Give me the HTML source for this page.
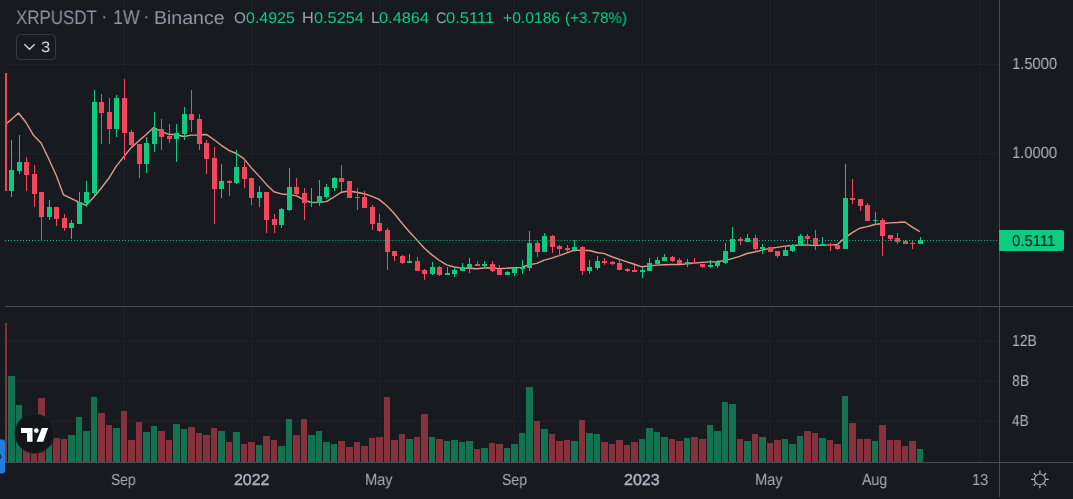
<!DOCTYPE html>
<html><head><meta charset="utf-8"><style>
html,body{margin:0;padding:0;}
body{width:1073px;height:499px;overflow:hidden;background:#171b20;position:relative;font-family:"Liberation Sans",sans-serif;}
.t{position:absolute;white-space:pre;line-height:1;transform-origin:0 0;will-change:transform;text-rendering:geometricPrecision;}
svg{position:absolute;left:0;top:0;}
</style></head><body>
<svg width="1073" height="499" viewBox="0 0 1073 499">
<defs><clipPath id="pane"><rect x="5" y="0" width="994" height="306"/></clipPath></defs>
<g shape-rendering="crispEdges">
<rect x="124" y="0" width="1" height="306" fill="#1d2127"/>
<rect x="124" y="307" width="1" height="155" fill="#1d2127"/>
<rect x="251" y="0" width="1" height="306" fill="#1d2127"/>
<rect x="251" y="307" width="1" height="155" fill="#1d2127"/>
<rect x="379" y="0" width="1" height="306" fill="#1d2127"/>
<rect x="379" y="307" width="1" height="155" fill="#1d2127"/>
<rect x="514" y="0" width="1" height="306" fill="#1d2127"/>
<rect x="514" y="307" width="1" height="155" fill="#1d2127"/>
<rect x="642" y="0" width="1" height="306" fill="#1d2127"/>
<rect x="642" y="307" width="1" height="155" fill="#1d2127"/>
<rect x="770" y="0" width="1" height="306" fill="#1d2127"/>
<rect x="770" y="307" width="1" height="155" fill="#1d2127"/>
<rect x="875" y="0" width="1" height="306" fill="#1d2127"/>
<rect x="875" y="307" width="1" height="155" fill="#1d2127"/>
<rect x="980" y="0" width="1" height="306" fill="#1d2127"/>
<rect x="980" y="307" width="1" height="155" fill="#1d2127"/>
<rect x="5" y="64" width="994" height="1" fill="#1d2127"/>
<rect x="5" y="153" width="994" height="1" fill="#1d2127"/>
<rect x="5" y="242" width="994" height="1" fill="#1d2127"/>
<rect x="5" y="341" width="994" height="1" fill="#1d2127"/>
<rect x="5" y="381" width="994" height="1" fill="#1d2127"/>
<rect x="5" y="421" width="994" height="1" fill="#1d2127"/>
<rect x="5" y="323" width="2" height="139" fill="#87303e"/>
<rect x="8" y="376" width="7" height="86" fill="#137250"/>
<rect x="16" y="405" width="6" height="57" fill="#137250"/>
<rect x="23" y="425" width="7" height="37" fill="#87303e"/>
<rect x="31" y="430" width="6" height="32" fill="#87303e"/>
<rect x="38" y="398" width="7" height="64" fill="#87303e"/>
<rect x="46" y="432" width="6" height="30" fill="#137250"/>
<rect x="53" y="438" width="7" height="24" fill="#87303e"/>
<rect x="61" y="439" width="6" height="23" fill="#87303e"/>
<rect x="68" y="435" width="7" height="27" fill="#137250"/>
<rect x="76" y="417" width="6" height="45" fill="#137250"/>
<rect x="83" y="431" width="7" height="31" fill="#137250"/>
<rect x="91" y="397" width="6" height="65" fill="#137250"/>
<rect x="98" y="413" width="7" height="49" fill="#87303e"/>
<rect x="106" y="425" width="6" height="37" fill="#87303e"/>
<rect x="113" y="428" width="7" height="34" fill="#137250"/>
<rect x="121" y="411" width="6" height="51" fill="#87303e"/>
<rect x="128" y="440" width="7" height="22" fill="#87303e"/>
<rect x="136" y="422" width="6" height="40" fill="#87303e"/>
<rect x="143" y="432" width="7" height="30" fill="#137250"/>
<rect x="151" y="426" width="6" height="36" fill="#137250"/>
<rect x="158" y="431" width="7" height="31" fill="#87303e"/>
<rect x="166" y="440" width="6" height="22" fill="#87303e"/>
<rect x="173" y="424" width="7" height="38" fill="#137250"/>
<rect x="181" y="429" width="6" height="33" fill="#137250"/>
<rect x="188" y="427" width="7" height="35" fill="#87303e"/>
<rect x="196" y="433" width="6" height="29" fill="#87303e"/>
<rect x="203" y="435" width="7" height="27" fill="#87303e"/>
<rect x="211" y="428" width="6" height="34" fill="#87303e"/>
<rect x="218" y="431" width="7" height="31" fill="#137250"/>
<rect x="226" y="442" width="6" height="20" fill="#87303e"/>
<rect x="233" y="432" width="7" height="30" fill="#137250"/>
<rect x="241" y="444" width="6" height="18" fill="#87303e"/>
<rect x="248" y="442" width="7" height="20" fill="#87303e"/>
<rect x="256" y="445" width="6" height="17" fill="#137250"/>
<rect x="263" y="436" width="7" height="26" fill="#87303e"/>
<rect x="271" y="440" width="6" height="22" fill="#87303e"/>
<rect x="278" y="446" width="7" height="16" fill="#137250"/>
<rect x="286" y="419" width="6" height="43" fill="#137250"/>
<rect x="293" y="435" width="7" height="27" fill="#87303e"/>
<rect x="301" y="419" width="6" height="43" fill="#87303e"/>
<rect x="308" y="435" width="7" height="27" fill="#137250"/>
<rect x="316" y="431" width="6" height="31" fill="#137250"/>
<rect x="323" y="442" width="7" height="20" fill="#137250"/>
<rect x="331" y="444" width="6" height="18" fill="#137250"/>
<rect x="338" y="441" width="7" height="21" fill="#87303e"/>
<rect x="346" y="447" width="7" height="15" fill="#87303e"/>
<rect x="354" y="442" width="6" height="20" fill="#87303e"/>
<rect x="361" y="446" width="7" height="16" fill="#87303e"/>
<rect x="369" y="438" width="6" height="24" fill="#87303e"/>
<rect x="376" y="437" width="7" height="25" fill="#87303e"/>
<rect x="384" y="397" width="6" height="65" fill="#87303e"/>
<rect x="391" y="440" width="7" height="22" fill="#87303e"/>
<rect x="399" y="434" width="6" height="28" fill="#87303e"/>
<rect x="406" y="439" width="7" height="23" fill="#137250"/>
<rect x="414" y="437" width="6" height="25" fill="#87303e"/>
<rect x="421" y="414" width="7" height="48" fill="#87303e"/>
<rect x="429" y="437" width="6" height="25" fill="#137250"/>
<rect x="436" y="439" width="7" height="23" fill="#87303e"/>
<rect x="444" y="441" width="6" height="21" fill="#137250"/>
<rect x="451" y="440" width="7" height="22" fill="#137250"/>
<rect x="459" y="442" width="6" height="20" fill="#137250"/>
<rect x="466" y="441" width="7" height="21" fill="#137250"/>
<rect x="474" y="449" width="6" height="13" fill="#87303e"/>
<rect x="481" y="448" width="7" height="14" fill="#137250"/>
<rect x="489" y="443" width="6" height="19" fill="#87303e"/>
<rect x="496" y="444" width="7" height="18" fill="#87303e"/>
<rect x="504" y="448" width="6" height="14" fill="#137250"/>
<rect x="511" y="444" width="7" height="18" fill="#137250"/>
<rect x="519" y="433" width="6" height="29" fill="#137250"/>
<rect x="526" y="387" width="7" height="75" fill="#137250"/>
<rect x="534" y="421" width="6" height="41" fill="#87303e"/>
<rect x="541" y="429" width="7" height="33" fill="#137250"/>
<rect x="549" y="434" width="6" height="28" fill="#87303e"/>
<rect x="556" y="441" width="7" height="21" fill="#87303e"/>
<rect x="564" y="440" width="6" height="22" fill="#87303e"/>
<rect x="571" y="441" width="7" height="21" fill="#137250"/>
<rect x="579" y="420" width="6" height="42" fill="#87303e"/>
<rect x="586" y="433" width="7" height="29" fill="#137250"/>
<rect x="594" y="434" width="6" height="28" fill="#137250"/>
<rect x="601" y="442" width="7" height="20" fill="#87303e"/>
<rect x="609" y="444" width="6" height="18" fill="#87303e"/>
<rect x="616" y="440" width="7" height="22" fill="#87303e"/>
<rect x="624" y="445" width="6" height="17" fill="#87303e"/>
<rect x="631" y="442" width="7" height="20" fill="#87303e"/>
<rect x="639" y="439" width="6" height="23" fill="#137250"/>
<rect x="646" y="428" width="7" height="34" fill="#137250"/>
<rect x="654" y="432" width="6" height="30" fill="#137250"/>
<rect x="661" y="437" width="7" height="25" fill="#137250"/>
<rect x="669" y="439" width="6" height="23" fill="#87303e"/>
<rect x="676" y="441" width="7" height="21" fill="#87303e"/>
<rect x="684" y="438" width="6" height="24" fill="#137250"/>
<rect x="691" y="437" width="7" height="25" fill="#87303e"/>
<rect x="699" y="439" width="7" height="23" fill="#87303e"/>
<rect x="707" y="425" width="6" height="37" fill="#137250"/>
<rect x="714" y="431" width="7" height="31" fill="#137250"/>
<rect x="722" y="402" width="6" height="60" fill="#137250"/>
<rect x="729" y="404" width="7" height="58" fill="#137250"/>
<rect x="737" y="439" width="6" height="23" fill="#87303e"/>
<rect x="744" y="441" width="7" height="21" fill="#137250"/>
<rect x="752" y="434" width="6" height="28" fill="#87303e"/>
<rect x="759" y="437" width="7" height="25" fill="#137250"/>
<rect x="767" y="443" width="6" height="19" fill="#87303e"/>
<rect x="774" y="440" width="7" height="22" fill="#87303e"/>
<rect x="782" y="439" width="6" height="23" fill="#137250"/>
<rect x="789" y="444" width="7" height="18" fill="#137250"/>
<rect x="797" y="436" width="6" height="26" fill="#137250"/>
<rect x="804" y="431" width="7" height="31" fill="#87303e"/>
<rect x="812" y="433" width="6" height="29" fill="#87303e"/>
<rect x="819" y="438" width="7" height="24" fill="#137250"/>
<rect x="827" y="440" width="6" height="22" fill="#87303e"/>
<rect x="834" y="444" width="7" height="18" fill="#87303e"/>
<rect x="842" y="396" width="6" height="66" fill="#137250"/>
<rect x="849" y="423" width="7" height="39" fill="#87303e"/>
<rect x="857" y="439" width="6" height="23" fill="#87303e"/>
<rect x="864" y="439" width="7" height="23" fill="#87303e"/>
<rect x="872" y="441" width="6" height="21" fill="#137250"/>
<rect x="879" y="425" width="7" height="37" fill="#87303e"/>
<rect x="887" y="440" width="6" height="22" fill="#87303e"/>
<rect x="894" y="440" width="7" height="22" fill="#87303e"/>
<rect x="902" y="446" width="6" height="16" fill="#87303e"/>
<rect x="909" y="441" width="7" height="21" fill="#87303e"/>
<rect x="917" y="449" width="6" height="13" fill="#137250"/>
</g><g clip-path="url(#pane)"><path d="M3.50,126.00 L11.01,119.70 L18.52,113.00 L26.03,122.50 L33.54,135.30 L41.05,143.00 L48.56,158.50 L56.07,175.00 L63.59,194.91 L71.10,198.47 L78.61,202.02 L86.12,205.36 L93.63,197.21 L101.14,188.26 L108.65,178.52 L116.16,166.41 L123.67,156.88 L131.18,147.68 L138.69,141.09 L146.20,134.53 L153.71,127.51 L161.22,131.43 L168.74,134.32 L176.25,134.77 L183.76,136.54 L191.27,135.12 L198.78,134.98 L206.29,134.44 L213.80,139.53 L221.31,145.32 L228.82,150.40 L236.33,153.49 L243.84,158.58 L251.35,167.89 L258.86,175.89 L266.37,184.39 L273.89,191.71 L281.40,193.93 L288.91,194.63 L296.42,195.87 L303.93,199.88 L311.44,202.43 L318.95,202.23 L326.46,201.67 L333.97,197.00 L341.48,192.21 L348.99,190.99 L356.50,192.19 L364.01,193.77 L371.52,196.11 L379.03,199.34 L386.55,205.54 L394.06,213.27 L401.57,222.71 L409.08,231.52 L416.59,239.64 L424.10,248.07 L431.61,254.61 L439.12,260.27 L446.63,264.94 L454.14,266.97 L461.65,268.13 L469.16,268.27 L476.67,268.80 L484.18,268.06 L491.70,267.73 L499.21,268.62 L506.72,268.32 L514.23,267.73 L521.74,267.39 L529.25,264.72 L536.76,263.37 L544.27,260.06 L551.78,258.13 L559.29,255.68 L566.80,252.91 L574.31,250.10 L581.82,250.47 L589.33,250.46 L596.85,252.46 L604.36,253.68 L611.87,256.76 L619.38,259.32 L626.89,261.79 L634.40,264.23 L641.91,266.80 L649.42,265.91 L656.93,265.16 L664.44,264.74 L671.95,264.51 L679.46,264.60 L686.97,263.71 L694.48,262.99 L702.00,262.40 L709.51,261.84 L717.02,261.69 L724.53,260.68 L732.04,258.63 L739.55,256.44 L747.06,253.50 L754.57,252.03 L762.08,250.08 L769.59,248.44 L777.10,247.41 L784.61,246.09 L792.12,245.43 L799.63,245.12 L807.14,244.86 L814.66,245.63 L822.17,245.10 L829.68,244.92 L837.19,244.57 L844.70,238.13 L852.21,232.58 L859.72,228.24 L867.23,226.59 L874.74,224.50 L882.25,223.50 L889.76,222.92 L897.27,222.56 L904.78,222.02 L912.29,227.16 L919.81,231.63" fill="none" stroke="#df9c8a" stroke-width="1.4" stroke-linejoin="round" shape-rendering="auto"/></g><g shape-rendering="crispEdges">
<rect x="5" y="73" width="2" height="118" fill="#f6465d"/>
<rect x="11" y="140" width="1" height="57" fill="#0ecb81"/>
<rect x="9" y="170" width="5" height="21" fill="#0ecb81"/>
<rect x="19" y="135" width="1" height="39" fill="#0ecb81"/>
<rect x="17" y="162" width="5" height="9" fill="#0ecb81"/>
<rect x="26" y="157" width="1" height="34" fill="#f6465d"/>
<rect x="24" y="162" width="5" height="13" fill="#f6465d"/>
<rect x="34" y="165" width="1" height="42" fill="#f6465d"/>
<rect x="32" y="174" width="5" height="20" fill="#f6465d"/>
<rect x="41" y="192" width="1" height="48" fill="#f6465d"/>
<rect x="39" y="192" width="5" height="25" fill="#f6465d"/>
<rect x="49" y="200" width="1" height="20" fill="#0ecb81"/>
<rect x="47" y="207" width="5" height="10" fill="#0ecb81"/>
<rect x="56" y="207" width="1" height="19" fill="#f6465d"/>
<rect x="54" y="207" width="5" height="12" fill="#f6465d"/>
<rect x="64" y="214" width="1" height="17" fill="#f6465d"/>
<rect x="62" y="218" width="5" height="10" fill="#f6465d"/>
<rect x="71" y="220" width="1" height="19" fill="#0ecb81"/>
<rect x="69" y="223" width="5" height="5" fill="#0ecb81"/>
<rect x="79" y="192" width="1" height="32" fill="#0ecb81"/>
<rect x="77" y="202" width="5" height="22" fill="#0ecb81"/>
<rect x="86" y="181" width="1" height="26" fill="#0ecb81"/>
<rect x="84" y="192" width="5" height="11" fill="#0ecb81"/>
<rect x="94" y="90" width="1" height="105" fill="#0ecb81"/>
<rect x="92" y="102" width="5" height="91" fill="#0ecb81"/>
<rect x="101" y="94" width="1" height="50" fill="#f6465d"/>
<rect x="99" y="102" width="5" height="11" fill="#f6465d"/>
<rect x="109" y="98" width="1" height="46" fill="#f6465d"/>
<rect x="107" y="112" width="5" height="17" fill="#f6465d"/>
<rect x="116" y="95" width="1" height="42" fill="#0ecb81"/>
<rect x="114" y="98" width="5" height="31" fill="#0ecb81"/>
<rect x="124" y="79" width="1" height="81" fill="#f6465d"/>
<rect x="122" y="98" width="5" height="35" fill="#f6465d"/>
<rect x="131" y="130" width="1" height="17" fill="#f6465d"/>
<rect x="129" y="132" width="5" height="13" fill="#f6465d"/>
<rect x="139" y="144" width="1" height="34" fill="#f6465d"/>
<rect x="137" y="144" width="5" height="20" fill="#f6465d"/>
<rect x="146" y="137" width="1" height="36" fill="#0ecb81"/>
<rect x="144" y="143" width="5" height="21" fill="#0ecb81"/>
<rect x="154" y="112" width="1" height="40" fill="#0ecb81"/>
<rect x="152" y="129" width="5" height="15" fill="#0ecb81"/>
<rect x="161" y="119" width="1" height="31" fill="#f6465d"/>
<rect x="159" y="129" width="5" height="8" fill="#f6465d"/>
<rect x="169" y="124" width="1" height="19" fill="#f6465d"/>
<rect x="167" y="136" width="5" height="3" fill="#f6465d"/>
<rect x="176" y="124" width="1" height="38" fill="#0ecb81"/>
<rect x="174" y="133" width="5" height="6" fill="#0ecb81"/>
<rect x="184" y="107" width="1" height="33" fill="#0ecb81"/>
<rect x="182" y="114" width="5" height="20" fill="#0ecb81"/>
<rect x="191" y="90" width="1" height="42" fill="#f6465d"/>
<rect x="189" y="114" width="5" height="6" fill="#f6465d"/>
<rect x="199" y="114" width="1" height="36" fill="#f6465d"/>
<rect x="197" y="119" width="5" height="25" fill="#f6465d"/>
<rect x="206" y="140" width="1" height="34" fill="#f6465d"/>
<rect x="204" y="143" width="5" height="16" fill="#f6465d"/>
<rect x="214" y="147" width="1" height="77" fill="#f6465d"/>
<rect x="212" y="158" width="5" height="31" fill="#f6465d"/>
<rect x="221" y="164" width="1" height="34" fill="#0ecb81"/>
<rect x="219" y="181" width="5" height="8" fill="#0ecb81"/>
<rect x="229" y="180" width="1" height="16" fill="#f6465d"/>
<rect x="227" y="181" width="5" height="2" fill="#f6465d"/>
<rect x="236" y="150" width="1" height="34" fill="#0ecb81"/>
<rect x="234" y="167" width="5" height="16" fill="#0ecb81"/>
<rect x="244" y="161" width="1" height="27" fill="#f6465d"/>
<rect x="242" y="167" width="5" height="12" fill="#f6465d"/>
<rect x="251" y="178" width="1" height="27" fill="#f6465d"/>
<rect x="249" y="178" width="5" height="20" fill="#f6465d"/>
<rect x="259" y="186" width="1" height="21" fill="#0ecb81"/>
<rect x="257" y="192" width="5" height="6" fill="#0ecb81"/>
<rect x="266" y="192" width="1" height="41" fill="#f6465d"/>
<rect x="264" y="192" width="5" height="28" fill="#f6465d"/>
<rect x="274" y="214" width="1" height="19" fill="#f6465d"/>
<rect x="272" y="219" width="5" height="6" fill="#f6465d"/>
<rect x="281" y="208" width="1" height="20" fill="#0ecb81"/>
<rect x="279" y="209" width="5" height="16" fill="#0ecb81"/>
<rect x="289" y="168" width="1" height="43" fill="#0ecb81"/>
<rect x="287" y="187" width="5" height="23" fill="#0ecb81"/>
<rect x="296" y="178" width="1" height="18" fill="#f6465d"/>
<rect x="294" y="187" width="5" height="7" fill="#f6465d"/>
<rect x="304" y="188" width="1" height="32" fill="#f6465d"/>
<rect x="302" y="193" width="5" height="10" fill="#f6465d"/>
<rect x="311" y="188" width="1" height="19" fill="#0ecb81"/>
<rect x="309" y="202" width="5" height="1" fill="#0ecb81"/>
<rect x="319" y="180" width="1" height="26" fill="#0ecb81"/>
<rect x="317" y="196" width="5" height="7" fill="#0ecb81"/>
<rect x="326" y="184" width="1" height="15" fill="#0ecb81"/>
<rect x="324" y="187" width="5" height="10" fill="#0ecb81"/>
<rect x="334" y="177" width="1" height="14" fill="#0ecb81"/>
<rect x="332" y="178" width="5" height="10" fill="#0ecb81"/>
<rect x="341" y="165" width="1" height="27" fill="#f6465d"/>
<rect x="339" y="178" width="5" height="4" fill="#f6465d"/>
<rect x="349" y="181" width="1" height="17" fill="#f6465d"/>
<rect x="347" y="181" width="5" height="17" fill="#f6465d"/>
<rect x="357" y="188" width="1" height="22" fill="#f6465d"/>
<rect x="355" y="197" width="5" height="1" fill="#f6465d"/>
<rect x="364" y="191" width="1" height="17" fill="#f6465d"/>
<rect x="362" y="197" width="5" height="11" fill="#f6465d"/>
<rect x="372" y="205" width="1" height="25" fill="#f6465d"/>
<rect x="370" y="207" width="5" height="17" fill="#f6465d"/>
<rect x="379" y="214" width="1" height="18" fill="#f6465d"/>
<rect x="377" y="223" width="5" height="8" fill="#f6465d"/>
<rect x="387" y="228" width="1" height="42" fill="#f6465d"/>
<rect x="385" y="230" width="5" height="22" fill="#f6465d"/>
<rect x="394" y="251" width="1" height="10" fill="#f6465d"/>
<rect x="392" y="251" width="5" height="5" fill="#f6465d"/>
<rect x="402" y="255" width="1" height="9" fill="#f6465d"/>
<rect x="400" y="256" width="5" height="7" fill="#f6465d"/>
<rect x="409" y="254" width="1" height="9" fill="#0ecb81"/>
<rect x="407" y="261" width="5" height="2" fill="#0ecb81"/>
<rect x="417" y="257" width="1" height="14" fill="#f6465d"/>
<rect x="415" y="261" width="5" height="10" fill="#f6465d"/>
<rect x="424" y="269" width="1" height="11" fill="#f6465d"/>
<rect x="422" y="270" width="5" height="4" fill="#f6465d"/>
<rect x="432" y="262" width="1" height="13" fill="#0ecb81"/>
<rect x="430" y="267" width="5" height="7" fill="#0ecb81"/>
<rect x="439" y="266" width="1" height="10" fill="#f6465d"/>
<rect x="437" y="267" width="5" height="8" fill="#f6465d"/>
<rect x="447" y="267" width="1" height="8" fill="#0ecb81"/>
<rect x="445" y="273" width="5" height="2" fill="#0ecb81"/>
<rect x="454" y="267" width="1" height="10" fill="#0ecb81"/>
<rect x="452" y="270" width="5" height="4" fill="#0ecb81"/>
<rect x="462" y="263" width="1" height="8" fill="#0ecb81"/>
<rect x="460" y="267" width="5" height="4" fill="#0ecb81"/>
<rect x="469" y="258" width="1" height="15" fill="#0ecb81"/>
<rect x="467" y="264" width="5" height="4" fill="#0ecb81"/>
<rect x="477" y="261" width="1" height="5" fill="#f6465d"/>
<rect x="475" y="264" width="5" height="2" fill="#f6465d"/>
<rect x="484" y="261" width="1" height="6" fill="#0ecb81"/>
<rect x="482" y="264" width="5" height="2" fill="#0ecb81"/>
<rect x="492" y="261" width="1" height="11" fill="#f6465d"/>
<rect x="490" y="264" width="5" height="7" fill="#f6465d"/>
<rect x="499" y="265" width="1" height="10" fill="#f6465d"/>
<rect x="497" y="269" width="5" height="6" fill="#f6465d"/>
<rect x="507" y="271" width="1" height="4" fill="#0ecb81"/>
<rect x="505" y="272" width="5" height="3" fill="#0ecb81"/>
<rect x="514" y="267" width="1" height="9" fill="#0ecb81"/>
<rect x="512" y="268" width="5" height="5" fill="#0ecb81"/>
<rect x="522" y="260" width="1" height="14" fill="#0ecb81"/>
<rect x="520" y="267" width="5" height="2" fill="#0ecb81"/>
<rect x="529" y="231" width="1" height="40" fill="#0ecb81"/>
<rect x="527" y="243" width="5" height="25" fill="#0ecb81"/>
<rect x="537" y="241" width="1" height="16" fill="#f6465d"/>
<rect x="535" y="243" width="5" height="9" fill="#f6465d"/>
<rect x="544" y="233" width="1" height="19" fill="#0ecb81"/>
<rect x="542" y="236" width="5" height="16" fill="#0ecb81"/>
<rect x="552" y="235" width="1" height="18" fill="#f6465d"/>
<rect x="550" y="236" width="5" height="11" fill="#f6465d"/>
<rect x="559" y="245" width="1" height="11" fill="#f6465d"/>
<rect x="557" y="246" width="5" height="3" fill="#f6465d"/>
<rect x="567" y="245" width="1" height="7" fill="#f6465d"/>
<rect x="565" y="248" width="5" height="2" fill="#f6465d"/>
<rect x="574" y="240" width="1" height="12" fill="#0ecb81"/>
<rect x="572" y="247" width="5" height="3" fill="#0ecb81"/>
<rect x="582" y="246" width="1" height="29" fill="#f6465d"/>
<rect x="580" y="247" width="5" height="24" fill="#f6465d"/>
<rect x="589" y="260" width="1" height="14" fill="#0ecb81"/>
<rect x="587" y="267" width="5" height="4" fill="#0ecb81"/>
<rect x="597" y="256" width="1" height="14" fill="#0ecb81"/>
<rect x="595" y="261" width="5" height="7" fill="#0ecb81"/>
<rect x="604" y="258" width="1" height="7" fill="#f6465d"/>
<rect x="602" y="261" width="5" height="2" fill="#f6465d"/>
<rect x="612" y="261" width="1" height="4" fill="#f6465d"/>
<rect x="610" y="262" width="5" height="2" fill="#f6465d"/>
<rect x="619" y="260" width="1" height="10" fill="#f6465d"/>
<rect x="617" y="263" width="5" height="7" fill="#f6465d"/>
<rect x="627" y="268" width="1" height="4" fill="#f6465d"/>
<rect x="625" y="269" width="5" height="2" fill="#f6465d"/>
<rect x="634" y="265" width="1" height="7" fill="#f6465d"/>
<rect x="632" y="270" width="5" height="2" fill="#f6465d"/>
<rect x="642" y="267" width="1" height="11" fill="#0ecb81"/>
<rect x="640" y="270" width="5" height="2" fill="#0ecb81"/>
<rect x="649" y="258" width="1" height="13" fill="#0ecb81"/>
<rect x="647" y="263" width="5" height="8" fill="#0ecb81"/>
<rect x="657" y="257" width="1" height="9" fill="#0ecb81"/>
<rect x="655" y="260" width="5" height="4" fill="#0ecb81"/>
<rect x="664" y="254" width="1" height="7" fill="#0ecb81"/>
<rect x="662" y="257" width="5" height="4" fill="#0ecb81"/>
<rect x="672" y="256" width="1" height="6" fill="#f6465d"/>
<rect x="670" y="257" width="5" height="4" fill="#f6465d"/>
<rect x="679" y="258" width="1" height="6" fill="#f6465d"/>
<rect x="677" y="260" width="5" height="4" fill="#f6465d"/>
<rect x="687" y="259" width="1" height="8" fill="#0ecb81"/>
<rect x="685" y="262" width="5" height="2" fill="#0ecb81"/>
<rect x="694" y="258" width="1" height="6" fill="#f6465d"/>
<rect x="692" y="262" width="5" height="2" fill="#f6465d"/>
<rect x="702" y="264" width="1" height="4" fill="#f6465d"/>
<rect x="700" y="264" width="5" height="3" fill="#f6465d"/>
<rect x="710" y="260" width="1" height="8" fill="#0ecb81"/>
<rect x="708" y="265" width="5" height="2" fill="#0ecb81"/>
<rect x="717" y="260" width="1" height="8" fill="#0ecb81"/>
<rect x="715" y="262" width="5" height="4" fill="#0ecb81"/>
<rect x="725" y="243" width="1" height="21" fill="#0ecb81"/>
<rect x="723" y="251" width="5" height="12" fill="#0ecb81"/>
<rect x="732" y="227" width="1" height="25" fill="#0ecb81"/>
<rect x="730" y="239" width="5" height="13" fill="#0ecb81"/>
<rect x="740" y="237" width="1" height="8" fill="#f6465d"/>
<rect x="738" y="239" width="5" height="2" fill="#f6465d"/>
<rect x="747" y="234" width="1" height="8" fill="#0ecb81"/>
<rect x="745" y="238" width="5" height="4" fill="#0ecb81"/>
<rect x="755" y="235" width="1" height="17" fill="#f6465d"/>
<rect x="753" y="238" width="5" height="11" fill="#f6465d"/>
<rect x="762" y="244" width="1" height="10" fill="#0ecb81"/>
<rect x="760" y="247" width="5" height="2" fill="#0ecb81"/>
<rect x="770" y="247" width="1" height="5" fill="#f6465d"/>
<rect x="768" y="247" width="5" height="5" fill="#f6465d"/>
<rect x="777" y="251" width="1" height="7" fill="#f6465d"/>
<rect x="775" y="251" width="5" height="5" fill="#f6465d"/>
<rect x="785" y="246" width="1" height="10" fill="#0ecb81"/>
<rect x="783" y="250" width="5" height="6" fill="#0ecb81"/>
<rect x="792" y="244" width="1" height="8" fill="#0ecb81"/>
<rect x="790" y="245" width="5" height="6" fill="#0ecb81"/>
<rect x="800" y="234" width="1" height="12" fill="#0ecb81"/>
<rect x="798" y="236" width="5" height="10" fill="#0ecb81"/>
<rect x="807" y="234" width="1" height="12" fill="#f6465d"/>
<rect x="805" y="236" width="5" height="3" fill="#f6465d"/>
<rect x="815" y="230" width="1" height="20" fill="#f6465d"/>
<rect x="813" y="238" width="5" height="7" fill="#f6465d"/>
<rect x="822" y="237" width="1" height="9" fill="#0ecb81"/>
<rect x="820" y="244" width="5" height="2" fill="#0ecb81"/>
<rect x="830" y="243" width="1" height="8" fill="#f6465d"/>
<rect x="828" y="244" width="5" height="1" fill="#f6465d"/>
<rect x="837" y="244" width="1" height="6" fill="#f6465d"/>
<rect x="835" y="245" width="5" height="4" fill="#f6465d"/>
<rect x="845" y="164" width="1" height="85" fill="#0ecb81"/>
<rect x="843" y="198" width="5" height="51" fill="#0ecb81"/>
<rect x="852" y="179" width="1" height="25" fill="#f6465d"/>
<rect x="850" y="198" width="5" height="2" fill="#f6465d"/>
<rect x="860" y="199" width="1" height="12" fill="#f6465d"/>
<rect x="858" y="199" width="5" height="7" fill="#f6465d"/>
<rect x="867" y="203" width="1" height="18" fill="#f6465d"/>
<rect x="865" y="205" width="5" height="16" fill="#f6465d"/>
<rect x="875" y="212" width="1" height="13" fill="#0ecb81"/>
<rect x="873" y="220" width="5" height="1" fill="#0ecb81"/>
<rect x="882" y="218" width="1" height="38" fill="#f6465d"/>
<rect x="880" y="220" width="5" height="16" fill="#f6465d"/>
<rect x="890" y="235" width="1" height="6" fill="#f6465d"/>
<rect x="888" y="235" width="5" height="4" fill="#f6465d"/>
<rect x="897" y="233" width="1" height="11" fill="#f6465d"/>
<rect x="895" y="238" width="5" height="4" fill="#f6465d"/>
<rect x="905" y="240" width="1" height="4" fill="#f6465d"/>
<rect x="903" y="241" width="5" height="3" fill="#f6465d"/>
<rect x="912" y="241" width="1" height="8" fill="#f6465d"/>
<rect x="910" y="243" width="5" height="1" fill="#f6465d"/>
<rect x="920" y="237" width="1" height="7" fill="#0ecb81"/>
<rect x="918" y="240" width="5" height="4" fill="#0ecb81"/>
</g>
<line x1="5" y1="240.5" x2="999" y2="240.5" stroke="#0ecb81" stroke-width="1" stroke-dasharray="1 2.0038"/>
<g shape-rendering="crispEdges">
<rect x="5" y="306" width="1068" height="1" fill="#4a4d57"/>
<rect x="5" y="462" width="1068" height="1" fill="#4a4d57"/>
<rect x="999" y="0" width="1" height="497" fill="#4a4d57"/>
</g>
<path d="M999,230 H1062 a2,2 0 0 1 2,2 V249 a2,2 0 0 1 -2,2 H999 Z" fill="#0ecb81"/>
<!-- legend button -->
<rect x="16.5" y="34.5" width="39" height="25" rx="4" ry="4" fill="none" stroke="#363a45" stroke-width="1"/>
<path d="M24.3,44.3 L29.5,49.3 L34.7,44.3" fill="none" stroke="#d1d4dc" stroke-width="1.4"/>
<!-- header dots -->
<circle cx="104.2" cy="17.3" r="1.1" fill="#8f94a1"/>
<circle cx="146.3" cy="17.3" r="1.1" fill="#8f94a1"/>
<!-- TV logo -->
<circle cx="34.6" cy="433.6" r="19.8" fill="#131519" stroke="#2a2e36" stroke-width="0.6"/>
<path d="M21,428 H32.5 V441.7 H27.05 V433 H21 Z" fill="#ffffff"/>
<circle cx="36.3" cy="430.6" r="2.35" fill="#ffffff"/>
<path d="M41.8,428 H48.1 L43.25,441.7 H36.5 Z" fill="#ffffff"/>
<!-- blue handle -->
<path d="M0,439.5 H2 a3,3 0 0 1 3,3 V470.5 a3,3 0 0 1 -3,3 H0 Z" fill="#1f7ee0"/>
<path d="M-0.5,454 L1.2,456.5 L-0.5,459" fill="none" stroke="#1c2330" stroke-width="1.2"/>
<!-- gear -->
<g transform="translate(1039.9,479.4)" stroke="#b2b5be" fill="none">
<circle r="5.4" stroke-width="1.1"/>
<g stroke-width="1.3">
<line x1="0" y1="-6" x2="0" y2="-8.8"/><line x1="0" y1="6" x2="0" y2="8.8"/>
<line x1="-6" y1="0" x2="-8.8" y2="0"/><line x1="6" y1="0" x2="8.8" y2="0"/>
<line x1="4.2" y1="-4.2" x2="6.2" y2="-6.2"/><line x1="-4.2" y1="-4.2" x2="-6.2" y2="-6.2"/>
<line x1="4.2" y1="4.2" x2="6.2" y2="6.2"/><line x1="-4.2" y1="4.2" x2="-6.2" y2="6.2"/>
</g></g>
</svg>
<div class="t" style="left:15.77px;top:8.70px;font-size:19.47px;font-weight:400;color:#8f94a1;transform:scaleX(0.8695)">XRPUSDT</div>
<div class="t" style="left:112.53px;top:8.93px;font-size:19.87px;font-weight:400;color:#8f94a1;transform:scaleX(0.8984)">1W</div>
<div class="t" style="left:154.01px;top:8.71px;font-size:18.57px;font-weight:400;color:#8f94a1;transform:scaleX(1.0525)">Binance</div>
<div class="t" style="left:234.14px;top:10.83px;font-size:15.28px;font-weight:400;color:#9ea3ae;transform:scaleX(0.9614)">O</div>
<div class="t" style="left:246.15px;top:10.83px;font-size:15.48px;font-weight:400;color:#0ecb81;transform:scaleX(1.0335)">0.4925</div>
<div class="t" style="left:302.40px;top:11.00px;font-size:15.88px;font-weight:400;color:#9ea3ae;transform:scaleX(1.0249)">H</div>
<div class="t" style="left:313.83px;top:10.83px;font-size:15.48px;font-weight:400;color:#0ecb81;transform:scaleX(1.0524)">0.5254</div>
<div class="t" style="left:370.51px;top:9.96px;font-size:16.18px;font-weight:400;color:#9ea3ae;transform:scaleX(0.9959)">L</div>
<div class="t" style="left:379.43px;top:10.83px;font-size:15.48px;font-weight:400;color:#0ecb81;transform:scaleX(1.0568)">0.4864</div>
<div class="t" style="left:436.19px;top:10.83px;font-size:15.28px;font-weight:400;color:#9ea3ae;transform:scaleX(0.9456)">C</div>
<div class="t" style="left:446.12px;top:10.83px;font-size:15.48px;font-weight:400;color:#0ecb81;transform:scaleX(1.0729)">0.5111</div>
<div class="t" style="left:503.12px;top:10.83px;font-size:15.48px;font-weight:400;color:#0ecb81;transform:scaleX(1.0129)">+0.0186</div>
<div class="t" style="left:565.33px;top:10.84px;font-size:15.58px;font-weight:400;color:#0ecb81;transform:scaleX(0.9738)">(+3.78%)</div>
<div class="t" style="left:1012.08px;top:55.96px;font-size:16.09px;font-weight:400;color:#b2b5be;transform:scaleX(0.9172)">1.5000</div>
<div class="t" style="left:1012.08px;top:145.01px;font-size:16.19px;font-weight:400;color:#b2b5be;transform:scaleX(0.9100)">1.0000</div>
<div class="t" style="left:1011.69px;top:233.80px;font-size:15.52px;font-weight:400;color:#101214;transform:scaleX(0.9598)">0.5111</div>
<div class="t" style="left:1012.03px;top:332.84px;font-size:16.12px;font-weight:400;color:#b2b5be;transform:scaleX(0.8626)">12B</div>
<div class="t" style="left:1011.91px;top:373.67px;font-size:15.62px;font-weight:400;color:#b2b5be;transform:scaleX(0.8938)">8B</div>
<div class="t" style="left:1012.32px;top:413.75px;font-size:15.92px;font-weight:400;color:#b2b5be;transform:scaleX(0.8584)">4B</div>
<div class="t" style="left:111.13px;top:472.81px;font-size:15.86px;font-weight:400;color:#a9adb8;transform:scaleX(0.8711)">Sep</div>
<div class="t" style="left:234.08px;top:472.83px;font-size:15.86px;font-weight:400;color:#aeb2bd;transform:scaleX(1.0028);-webkit-text-stroke:0.45px #aeb2bd">2022</div>
<div class="t" style="left:364.72px;top:472.01px;font-size:16.26px;font-weight:400;color:#a9adb8;transform:scaleX(0.8991)">May</div>
<div class="t" style="left:501.62px;top:472.81px;font-size:15.86px;font-weight:400;color:#a9adb8;transform:scaleX(0.8823)">Sep</div>
<div class="t" style="left:624.07px;top:472.80px;font-size:15.76px;font-weight:400;color:#aeb2bd;transform:scaleX(1.0157);-webkit-text-stroke:0.45px #aeb2bd">2023</div>
<div class="t" style="left:755.22px;top:472.01px;font-size:16.26px;font-weight:400;color:#a9adb8;transform:scaleX(0.8991)">May</div>
<div class="t" style="left:862.29px;top:472.03px;font-size:16.26px;font-weight:400;color:#a9adb8;transform:scaleX(0.8690)">Aug</div>
<div class="t" style="left:971.68px;top:472.84px;font-size:15.86px;font-weight:400;color:#a9adb8;transform:scaleX(0.9249)">13</div>
<div class="t" style="left:40.78px;top:40.57px;font-size:14.9px;font-weight:400;color:#d1d4dc;transform:scaleX(1.1078)">3</div>
</body></html>
